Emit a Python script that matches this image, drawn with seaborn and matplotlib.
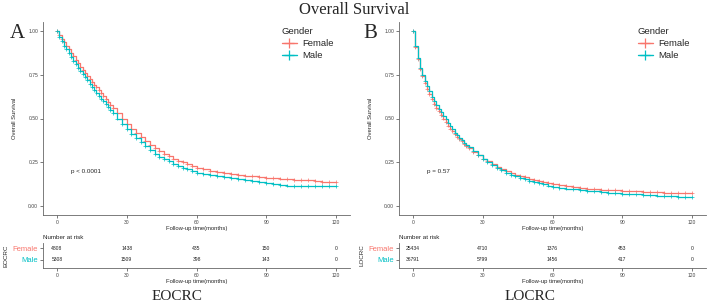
import numpy as np
import pandas as pd
import matplotlib
matplotlib.use("Agg")
import matplotlib.pyplot as plt
from matplotlib.lines import Line2D
import seaborn as sns

# ---------------- data ----------------
times = [0, 1, 2, 3, 4, 5, 6, 7, 8, 9, 10, 11, 12, 13, 14, 15, 16, 17, 18, 19, 20,
         21, 22, 23, 24,
         26, 28, 30, 32, 34, 36, 38, 40, 42, 44, 46, 48, 50, 52, 54, 56, 58, 60,
         63, 66, 69, 72, 75, 78, 81, 84, 87, 90, 93, 96, 99, 102, 105, 108, 111,
         114, 117, 120]

eo_female = [1.00, 0.975, 0.955, 0.935, 0.915, 0.895, 0.875, 0.855, 0.835, 0.815, 0.796,
             0.778, 0.76, 0.743, 0.727, 0.71, 0.693, 0.677, 0.66, 0.643, 0.627, 0.61, 0.593,
             0.577, 0.56,
             0.53, 0.50, 0.47, 0.443, 0.418, 0.395, 0.372, 0.35, 0.33, 0.313, 0.298, 0.285,
             0.272, 0.26, 0.25, 0.24, 0.23, 0.22,
             0.21, 0.20, 0.195, 0.19, 0.185, 0.18, 0.175, 0.17, 0.165, 0.162, 0.16, 0.158,
             0.155, 0.152, 0.15, 0.148, 0.145, 0.14, 0.138, 0.138]
eo_male = [1.00, 0.965, 0.94, 0.915, 0.895, 0.873, 0.85, 0.83, 0.81, 0.79, 0.77, 0.752,
           0.735, 0.717, 0.698, 0.68, 0.663, 0.647, 0.63, 0.613, 0.597, 0.58, 0.563, 0.547,
           0.53,
           0.50, 0.47, 0.44, 0.413, 0.388, 0.365, 0.342, 0.32, 0.30, 0.283, 0.268, 0.255,
           0.242, 0.23, 0.22, 0.21, 0.20, 0.19,
           0.183, 0.177, 0.171, 0.166, 0.16, 0.155, 0.15, 0.145, 0.14, 0.132, 0.125, 0.12,
           0.118, 0.116, 0.115, 0.115, 0.114, 0.114, 0.113, 0.113]
lo_female = [1.0, 0.91, 0.84, 0.78, 0.74, 0.70, 0.67, 0.64, 0.61, 0.585, 0.56, 0.54, 0.52,
             0.50, 0.48, 0.46, 0.443, 0.426, 0.41, 0.396, 0.383, 0.37, 0.356, 0.343, 0.33,
             0.31, 0.29, 0.272, 0.256, 0.24, 0.226, 0.213, 0.201, 0.19, 0.18, 0.172, 0.164,
             0.156, 0.149, 0.142, 0.136, 0.13, 0.125,
             0.119, 0.114, 0.109, 0.105, 0.101, 0.098, 0.095, 0.092, 0.09, 0.088, 0.086,
             0.084, 0.082, 0.081, 0.079, 0.078, 0.077, 0.075, 0.074, 0.073]
lo_male = [1.0, 0.915, 0.845, 0.79, 0.75, 0.715, 0.685, 0.655, 0.625, 0.60, 0.575, 0.555,
           0.535, 0.515, 0.495, 0.475, 0.456, 0.438, 0.42, 0.405, 0.39, 0.375, 0.361, 0.348,
           0.335,
           0.312, 0.29, 0.268, 0.25, 0.233, 0.218, 0.204, 0.191, 0.18, 0.17, 0.161, 0.153,
           0.145, 0.138, 0.131, 0.124, 0.118, 0.112,
           0.106, 0.101, 0.096, 0.092, 0.088, 0.084, 0.081, 0.078, 0.075, 0.072, 0.07,
           0.067, 0.065, 0.063, 0.061, 0.059, 0.057, 0.055, 0.053, 0.052]

risk_times = [0, 30, 60, 90, 120]
eo_risk_female = ["4808", "1438", "435", "150", "0"]
eo_risk_male = ["5308", "1509", "398", "143", "0"]
lo_risk_female = ["25434", "4710", "1376", "453", "0"]
lo_risk_male = ["36791", "5799", "1456", "417", "0"]

groups = ["Female", "Male"]
colors = {"Female": "#F8766D", "Male": "#00BFC4"}

# ---------------- figure ----------------
sns.set_theme(style="white")
plt.rcParams["font.family"] = ["Liberation Sans", "DejaVu Sans"]

fig = plt.figure(figsize=(7.08, 3.03), dpi=100)
W, H = 708, 303


def px_axes(x0, x1, y0, y1):
    return fig.add_axes([x0 / W, (H - y1) / H, (x1 - x0) / W, (y1 - y0) / H])


def style_spines(ax):
    for s in ["top", "right"]:
        ax.spines[s].set_visible(False)
    for s in ["left", "bottom"]:
        ax.spines[s].set_color("#666666")
        ax.spines[s].set_linewidth(0.6)


def draw_panel(ax, fem, mal, ptext):
    df = pd.DataFrame({
        "time": times * 2,
        "surv": fem + mal,
        "Gender": ["Female"] * len(times) + ["Male"] * len(times),
    })
    sns.lineplot(data=df, x="time", y="surv", hue="Gender", palette=colors,
                 drawstyle="steps-post", linewidth=0.9, ax=ax, legend=False,
                 estimator=None)
    sns.scatterplot(data=df, x="time", y="surv", hue="Gender", palette=colors,
                    marker="+", s=8, linewidth=0.5, ax=ax, legend=False)
    ax.set_xlim(-6, 126)
    ax.set_ylim(-0.05, 1.05)
    ax.set_xticks([0, 30, 60, 90, 120])
    ax.set_yticks([0, 0.25, 0.5, 0.75, 1.0])
    ax.set_yticklabels(["0.00", "0.25", "0.50", "0.75", "1.00"])
    ax.tick_params(axis="both", labelsize=3.6, length=2, width=0.5, pad=1.5,
                   left=True, bottom=True, colors="#444444")
    style_spines(ax)
    ax.set_xlabel("Follow-up time(months)", fontsize=4.2, labelpad=1)
    ax.set_ylabel("Overall Survival", fontsize=4.2, labelpad=8)
    ax.text(6, 0.19, ptext, fontsize=4.5, color="#222222")
    handles = [Line2D([0], [0], color=colors[g], marker="+", markersize=7,
                      linewidth=1.0, markeredgewidth=0.9) for g in groups]
    leg = ax.legend(handles, groups, title="Gender", loc="upper left",
                    bbox_to_anchor=(0.75, 1.02), frameon=False, fontsize=6.8,
                    title_fontsize=6.8, handlelength=1.6, handletextpad=0.6,
                    labelspacing=0.35)
    leg._legend_box.align = "left"


def draw_risk(ax, rf, rm, label):
    rdf = pd.DataFrame({
        "time": risk_times * 2,
        "row": [2] * len(risk_times) + [1] * len(risk_times),
        "n": rf + rm,
    })
    for _, r in rdf.iterrows():
        ax.text(r["time"], r["row"], r["n"], ha="center", va="center",
                fontsize=3.6, color="#222222")
    ax.set_xlim(-6, 126)
    ax.set_ylim(0.33, 2.42)
    ax.set_xticks(risk_times)
    ax.set_yticks([2, 1])
    ax.set_yticklabels(groups, fontsize=5.5)
    ax.tick_params(axis="both", length=2, width=0.5, pad=1.5, left=True,
                   bottom=True, colors="#444444")
    ax.tick_params(axis="x", labelsize=3.6)
    for t, g in zip(ax.get_yticklabels(), groups):
        t.set_color(colors[g])
    style_spines(ax)
    ax.set_xlabel("Follow-up time(months)", fontsize=4.2, labelpad=0.5)
    ax.set_ylabel(label, fontsize=4.5, labelpad=3)
    ax.text(0, 1.12, "Number at risk", transform=ax.transAxes, fontsize=4.5,
            color="#222222", va="bottom")


axA = px_axes(43, 350, 22, 215)
axB = px_axes(399, 706, 22, 215)
draw_panel(axA, eo_female, eo_male, "p < 0.0001")
draw_panel(axB, lo_female, lo_male, "p = 0.57")

rA = px_axes(43, 350, 243, 268)
rB = px_axes(399, 706, 243, 268)
draw_risk(rA, eo_risk_female, eo_risk_male, "EOCRC")
draw_risk(rB, lo_risk_female, lo_risk_male, "LOCRC")

serif = ["Liberation Serif", "DejaVu Serif"]
fig.text(354 / W, 1 - 10 / H, "Overall Survival", ha="center", va="center",
         fontsize=12, family=serif)
fig.text(10 / W, 1 - 34 / H, "A", ha="left", va="center", fontsize=15, family=serif)
fig.text(363 / W, 1 - 34 / H, "B", ha="left", va="center", fontsize=15, family=serif)
fig.text(177 / W, 1 - 296 / H, "EOCRC", ha="center", va="center", fontsize=11,
         family=serif)
fig.text(530 / W, 1 - 296 / H, "LOCRC", ha="center", va="center", fontsize=11,
         family=serif)

fig.savefig("out.png", dpi=100)
